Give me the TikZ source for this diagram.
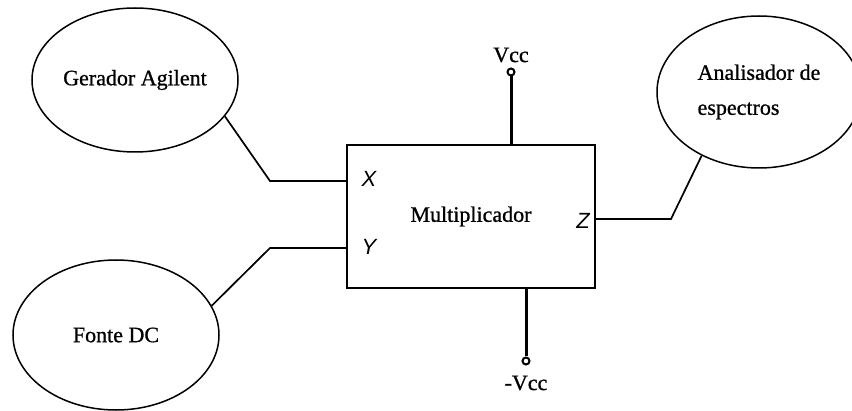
\documentclass[tikz,border=0pt]{standalone}
\usepackage{fontspec}
\setmainfont{Liberation Serif}[UprightFeatures={FakeBold=0.9}]
\setsansfont{Liberation Sans}
\usetikzlibrary{shapes.geometric,positioning,calc}

\tikzset{
fonte/.style={ellipse,draw,line width=1.5pt,inner sep=0pt},
bloco/.style={rectangle,draw,line width=2pt,minimum width=248pt,minimum height=143pt},
fio/.style={line width=1.7pt},
alim/.style={line width=3pt},
pino/.style={circle,draw,line width=2pt,fill=white,inner sep=0pt,minimum size=7pt},
porta/.style={font=\fontsize{22}{25}\selectfont\sffamily\itshape,inner sep=0pt},
rotulo/.style={font=\fontsize{22}{27}\selectfont,inner sep=0pt}
}

\begin{document}
\begin{tikzpicture}[x=1pt,y=1pt,
every node/.append style={font=\fontsize{22}{27}\selectfont}]
\useasboundingbox (0,0) rectangle (852,410);
\node[fonte,minimum width=206pt,minimum height=144pt] (gerador) at (135,330) {Gerador Agilent};
\node[fonte,minimum width=206pt,minimum height=150pt] (dc) at (116,75) {Fonte DC};
\node[fonte,minimum width=204pt,minimum height=152pt,align=left,
font=\fontsize{22}{35}\selectfont] (analisador) at (759,318) {Analisador de\\espectros};
\node[bloco] (mult) at (471,193.5) {Multiplicador};

% entradas e saida
\coordinate (cX) at (270,229);
\coordinate (cY) at (270,162);
\coordinate (cZ) at (671,191);
\draw[fio] (gerador.-22) -- (cX) -- (cX -| mult.west);
\draw[fio] (dc.17) -- (cY) -- (cY -| mult.west);
\draw[fio] (analisador.228) -- (cZ) -- (cZ -| mult.east);
\node[porta] (pX) at (369,231) {X};
\node[porta] (pY) at (369,163) {Y};
\node[porta] (pZ) at (583,189) {Z};

% alimentacao
\node[pino] (vcc) at (511,338) {};
\node[pino] (vee) at (526,49) {};
\draw[alim] (vcc.south) -- (vcc |- mult.north);
\draw[alim] (vee.north) -- (vee |- mult.south);
\node[rotulo] (tvcc) at (511,355) {Vcc};
\node[rotulo] (tvee) at (526,27) {-Vcc};
\end{tikzpicture}
\end{document}
